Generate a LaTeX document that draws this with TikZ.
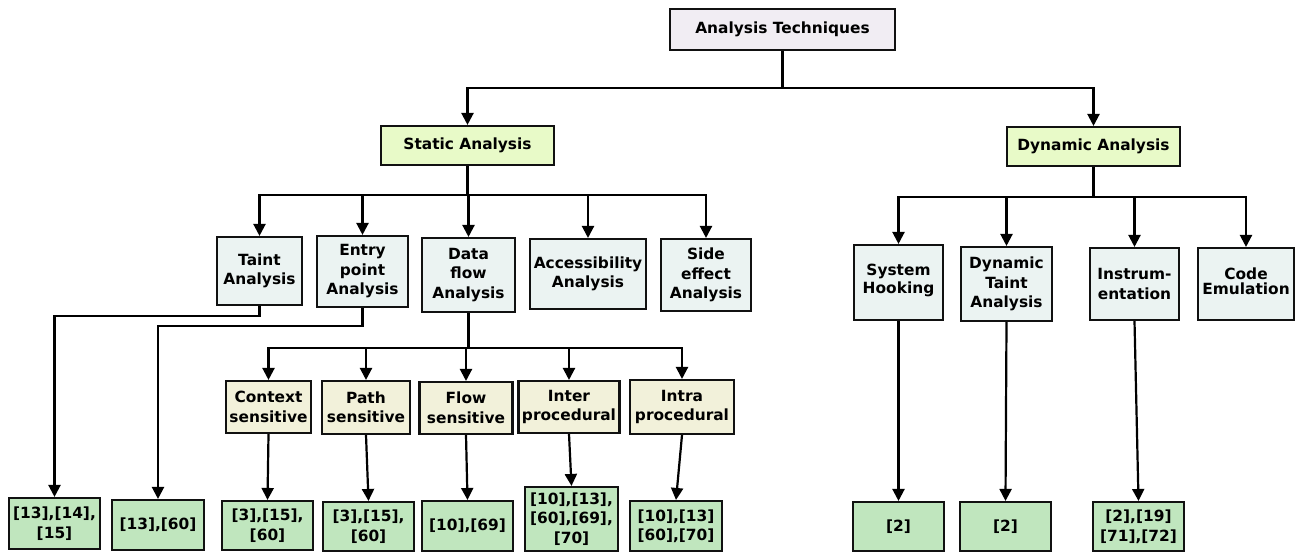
\documentclass[tikz,border=0pt]{standalone}
\usepackage{fontspec}
\setmainfont{DejaVu Sans}
\usetikzlibrary{arrows.meta}
\definecolor{rootc}{HTML}{F1EDF3}
\definecolor{topc}{HTML}{E8FAC8}
\definecolor{lvlc}{HTML}{EBF3F2}
\definecolor{subc}{HTML}{F2F1DA}
\definecolor{leafc}{HTML}{C0E6BE}
\definecolor{edgec}{HTML}{111111}
\begin{document}
\begin{tikzpicture}[x=1pt,y=-1pt,
  box/.style={draw=edgec,line width=2.1pt,inner sep=0pt,align=center,
    font=\fontsize{15.4}{19.5}\selectfont\bfseries},
  rootbox/.style={box,fill=rootc},
  topbox/.style={box,fill=topc},
  lvlbox/.style={box,fill=lvlc},
  subbox/.style={box,fill=subc},
  leafbox/.style={box,fill=leafc},
  conn/.style={line width=2.2pt,draw=black,-{Triangle[width=12pt,length=12pt]}}
]
\useasboundingbox (0,0) rectangle (1295,552);
\fill[white] (0,0) rectangle (1295,552);

% root and first level
\node[rootbox,minimum width=225,minimum height=41] (root) at (782.5,29.5) {Analysis Techniques};
\node[topbox,minimum width=173,minimum height=39] (static) at (467.5,145.5) {Static Analysis};
\node[topbox,minimum width=173,minimum height=39] (dynamic) at (1093.5,146.5) {Dynamic Analysis};

% static children
\node[lvlbox,minimum width=85,minimum height=68] (taint) at (259.5,271) {Taint\\Analysis};
\node[lvlbox,minimum width=91,minimum height=71] (entry) at (362.5,271.5) {Entry\\point\\Analysis};
\node[lvlbox,minimum width=93,minimum height=74] (dflow) at (468.5,275) {Data\\flow\\Analysis};
\node[lvlbox,minimum width=116,minimum height=70] (access) at (588,274) {Accessibility\\Analysis};
\node[lvlbox,minimum width=90,minimum height=72] (side) at (706,275) {Side\\effect\\Analysis};

% dynamic children
\node[lvlbox,minimum width=89,minimum height=75] (hook) at (898.5,282.5) {\raisebox{7pt}{\shortstack{System\\Hooking}}};
\node[lvlbox,minimum width=91,minimum height=74] (dtaint) at (1006.5,284) {Dynamic\\Taint\\Analysis};
\node[lvlbox,minimum width=89,minimum height=72] (instr) at (1134.5,284) {Instrum-\\entation};
\node[lvlbox,minimum width=96,minimum height=72] (emul) at (1246,284) {\raisebox{5pt}{\shortstack{Code\\Emulation}}};

% data flow children
\node[subbox,minimum width=85,minimum height=52] (ctx) at (268.5,407) {Context\\sensitive};
\node[subbox,minimum width=88,minimum height=53] (path) at (366,407.5) {Path\\sensitive};
\node[subbox,minimum width=93,minimum height=52] (flow) at (466,408) {Flow\\sensitive};
\node[subbox,minimum width=101,minimum height=52] (inter) at (569,407) {Inter\\procedural};
\node[subbox,minimum width=104,minimum height=54] (intra) at (682,407) {Intra\\procedural};

% leaves
\node[leafbox,minimum width=91,minimum height=51] (l1) at (54.5,523.5) {[13],[14],\\{}[15]};
\node[leafbox,minimum width=92,minimum height=50] (l2) at (158,525) {[13],[60]};
\node[leafbox,minimum width=91,minimum height=49] (l3) at (267.5,525.5) {[3],[15],\\{}[60]};
\node[leafbox,minimum width=91,minimum height=49] (l4) at (368.5,526.5) {[3],[15],\\{}[60]};
\node[leafbox,minimum width=91,minimum height=50] (l5) at (467.5,526) {[10],[69]};
\node[leafbox,minimum width=93,minimum height=64] (l6) at (571.5,519) {[10],[13],\\{}[60],[69],\\{}[70]};
\node[leafbox,minimum width=92,minimum height=50] (l7) at (676,526) {[10],[13]\\{}[60],[70]};
\node[leafbox,minimum width=91,minimum height=49] (l8) at (898.5,526.5) {[2]};
\node[leafbox,minimum width=91,minimum height=49] (l9) at (1005.5,526.5) {[2]};
\node[leafbox,minimum width=91,minimum height=49] (l10) at (1138.5,526.5) {[2],[19]\\{}[71],[72]};

% connectors: root
\draw[conn] (root.south) -- ++(0,37) -| (static.north);
\draw[conn] (root.south) -- ++(0,37) -| (dynamic.north);

% static bus
\foreach \c in {taint,entry,dflow,access,side}
  \draw[conn] (static.south) -- ++(0,29) -| (\c.north);

% dynamic bus
\foreach \c in {hook,dtaint,instr,emul}
  \draw[conn] (dynamic.south) -- ++(0,30) -| (\c.north);

% data flow bus
\foreach \c in {ctx,path,flow,inter,intra}
  \draw[conn] (dflow.south) -- ++(0,35) -| (\c.north);

% taint and entry to leaves
\draw[conn] (taint.south) -- ++(0,10) -| (l1.north);
\draw[conn] (entry.south) -- ++(0,18) -| (l2.north);

% straight connectors
\draw[conn] (ctx.south) -- (l3.north);
\draw[conn] (path.south) -- (l4.north);
\draw[conn] (flow.south) -- (l5.north);
\draw[conn] (inter.south) -- (l6.north);
\draw[conn] (intra.south) -- (l7.north);
\draw[conn] (hook.south) -- (l8.north);
\draw[conn] (dtaint.south) -- (l9.north);
\draw[conn] (instr.south) -- (l10.north);
\end{tikzpicture}
\end{document}
